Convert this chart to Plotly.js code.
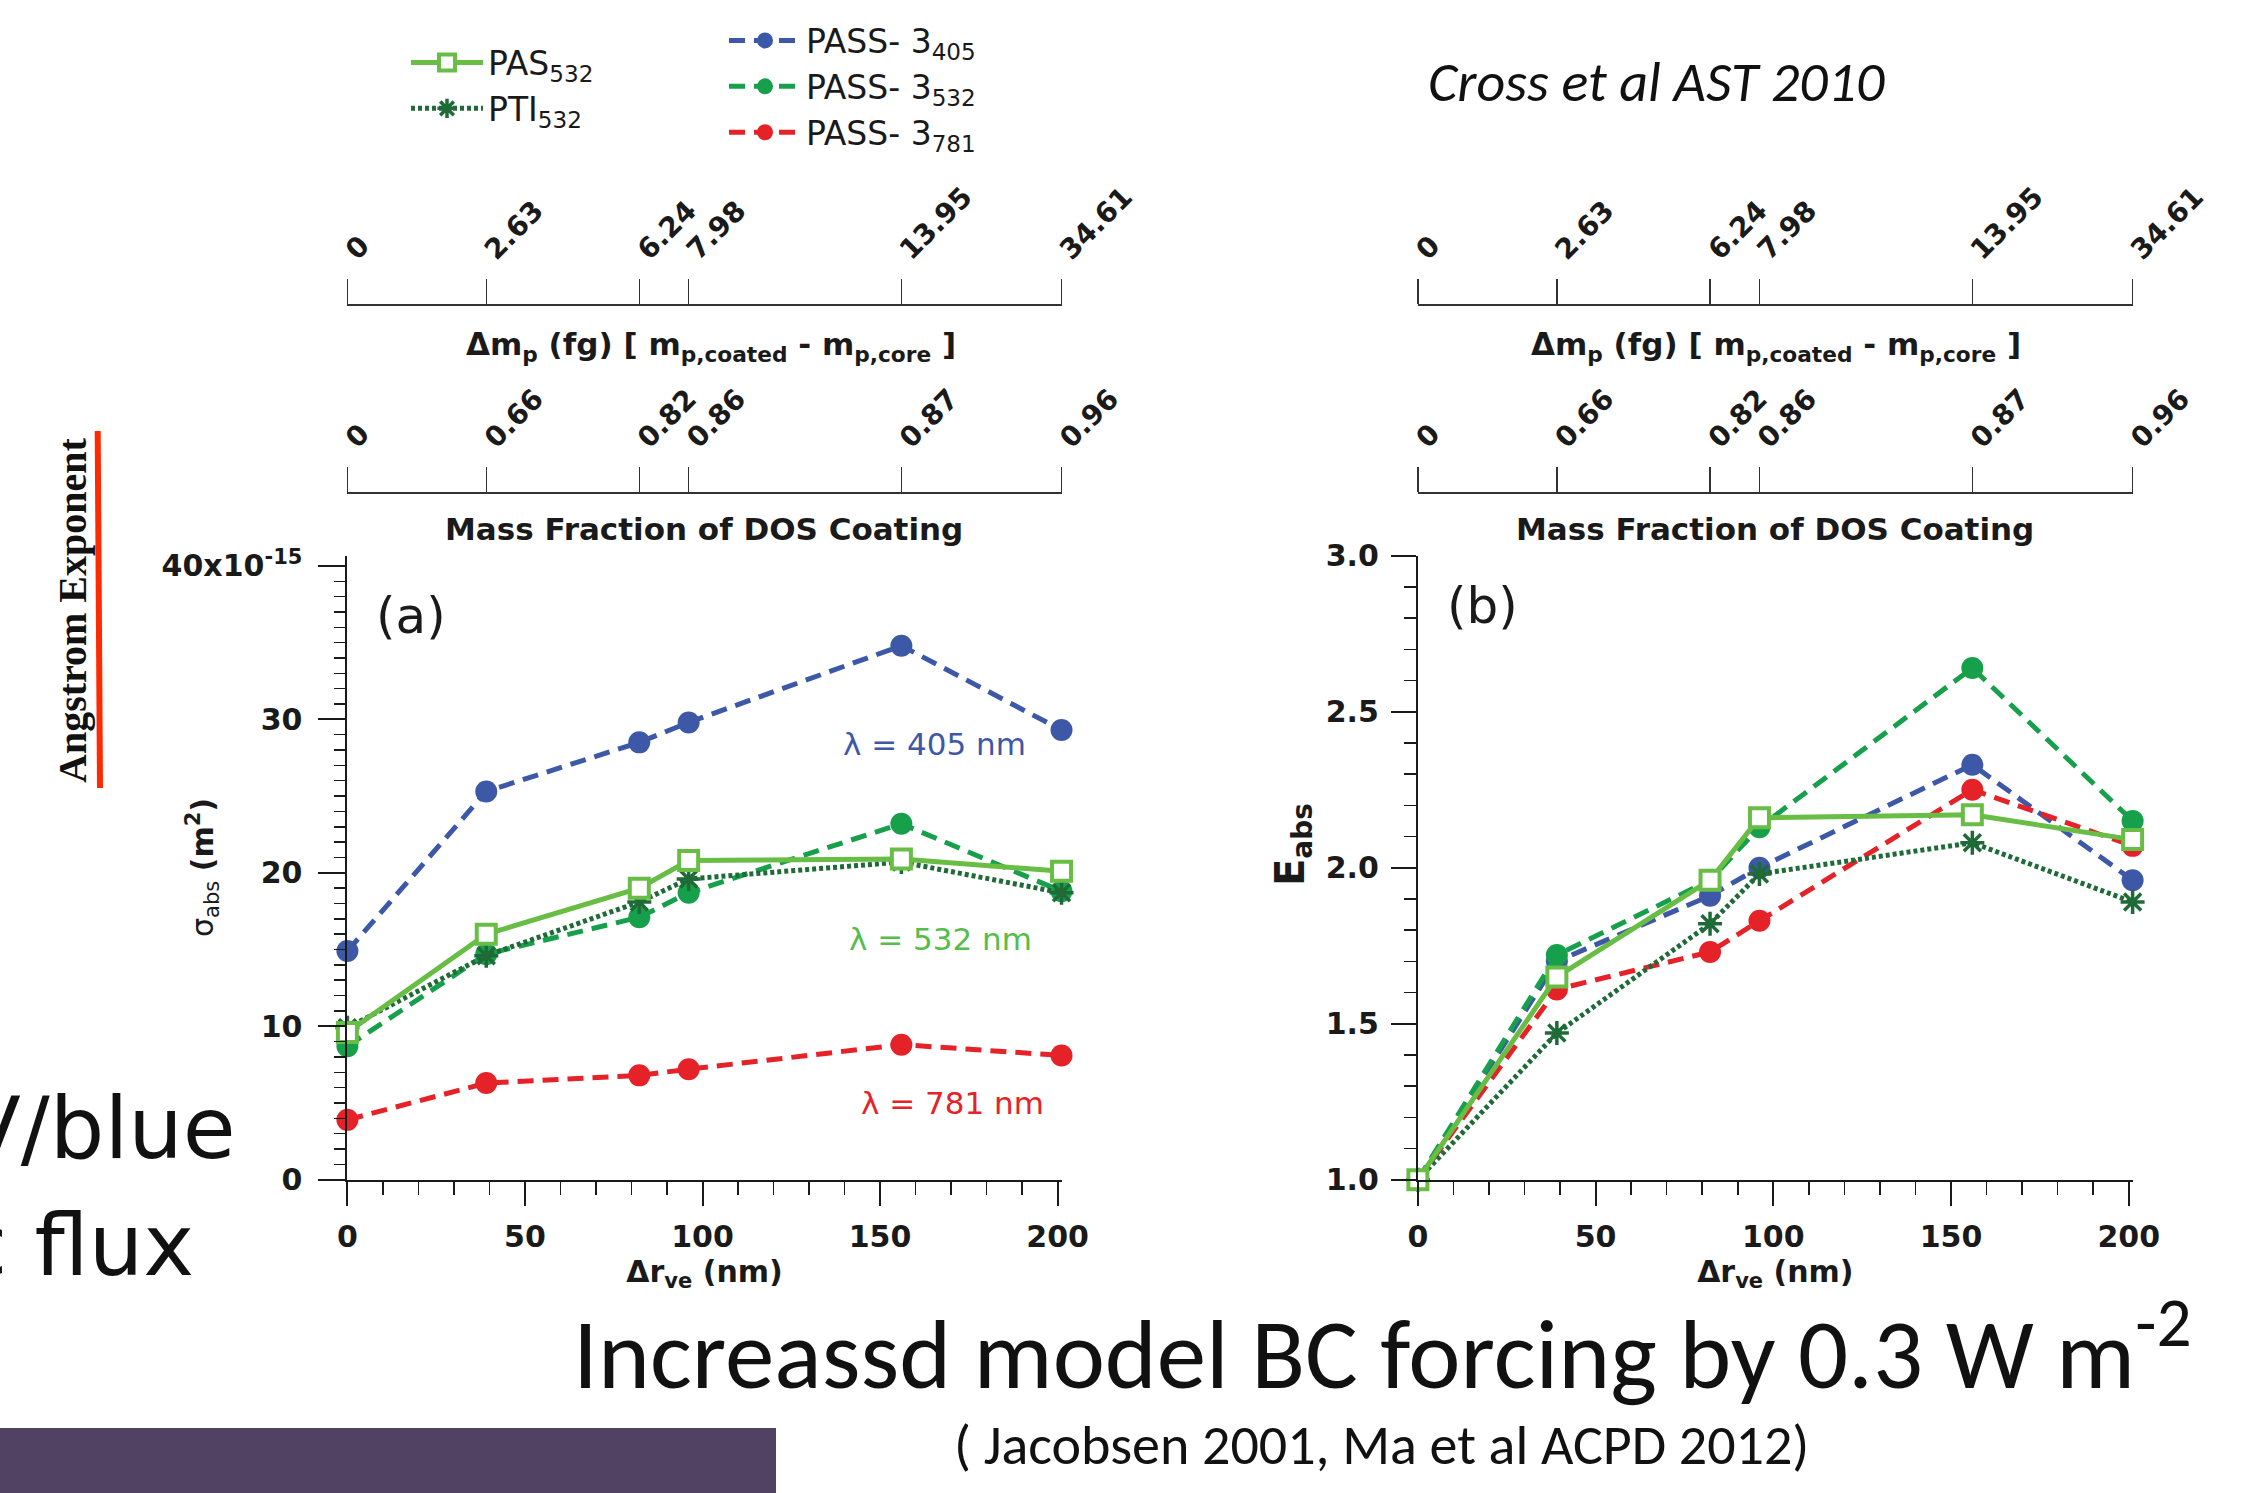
<!DOCTYPE html>
<html>
<head>
<meta charset="utf-8">
<script src="https://cdn.plot.ly/plotly-3.0.1.min.js"></script>
<style>html,body{margin:0;padding:0;background:#fff;overflow:hidden}</style>
</head>
<body>
<div id="chart" style="width:2261px;height:1493px"></div>
<script>
// Change in volume-equivalent radius of the coated particles (nm)
const dRve = [0, 39.1, 82.2, 96.1, 156.0, 201.1];

// Secondary scales for the same particles
const massDiffLabels = ['0', '2.63', '6.24', '7.98', '13.95', '34.61'];
const massFracLabels = ['0', '0.66', '0.82', '0.86', '0.87', '0.96'];

// (a) absorption cross section, units of 1e-15 m^2
const sigPass405 = [14.9, 25.3, 28.5, 29.8, 34.8, 29.3];
const sigPass532 = [8.7, 14.7, 17.1, 18.7, 23.2, 18.8];
const sigPass781 = [3.9, 6.3, 6.8, 7.2, 8.8, 8.1];
const sigPas532  = [9.6, 16.0, 19.0, 20.8, 20.9, 20.1];
const sigPti532  = [9.9, 14.6, 18.1, 19.6, 20.7, 18.7];

// (b) absorption enhancement
const ePass405 = [1.0, 1.70, 1.91, 2.00, 2.33, 1.96];
const ePass532 = [1.0, 1.72, 1.96, 2.13, 2.64, 2.15];
const ePass781 = [1.0, 1.61, 1.73, 1.83, 2.25, 2.07];
const ePas532  = [1.0, 1.65, 1.96, 2.16, 2.17, 2.09];
const ePti532  = [1.0, 1.47, 1.82, 1.98, 2.08, 1.89];

const sigTickVals = [0, 10, 20, 30, 40];
const sigTickText = ['0', '10', '20', '30', '40x10<sup>-15</sup>'];

const W = 2261, H = 1493;
const px = v => v / W;
const py = v => 1 - v / H;

const SANS = 'DejaVu Sans, Verdana, sans-serif';
const CAL = 'Carlito, Lato, sans-serif';
const INK = '#1a1a1a';

const C405 = '#3d58a7', C532 = '#17a04b', C781 = '#e62229';
const CPAS = '#68bd45', CPTI = '#1f6b37';

const DASH = '16px,9px';

function passTrace(x, y, name, color, xa, ya, show) {
  return {
    x: x, y: y, name: name, type: 'scatter', mode: 'lines+markers',
    xaxis: xa, yaxis: ya, legend: 'legend2', showlegend: show, cliponaxis: false,
    line: {color: color, width: 5, dash: DASH},
    marker: {symbol: 'circle', size: 22, color: color}
  };
}
function pasTrace(x, y, xa, ya, show) {
  return {
    x: x, y: y, name: 'PAS<sub>532</sub>', type: 'scatter', mode: 'lines+markers',
    xaxis: xa, yaxis: ya, legend: 'legend', legendrank: 1, showlegend: show, cliponaxis: false,
    line: {color: CPAS, width: 5},
    marker: {symbol: 'square', size: 19, color: '#ffffff', line: {color: CPAS, width: 4}}
  };
}
function ptiTrace(x, y, xa, ya, show) {
  return {
    x: x, y: y, name: 'PTI<sub>532</sub>', type: 'scatter', mode: 'lines+markers',
    xaxis: xa, yaxis: ya, legend: 'legend', legendrank: 2, showlegend: show, cliponaxis: false,
    line: {color: CPTI, width: 5, dash: '4px,3px'},
    marker: {symbol: 'asterisk-open', size: 20, color: CPTI, line: {color: CPTI, width: 3.5}}
  };
}
// carriers for the secondary top scales
function scaleCarrier(xa, ya, y) {
  return {x: dRve, y: y, xaxis: xa, yaxis: ya, type: 'scatter', mode: 'none',
          showlegend: false, hoverinfo: 'skip'};
}

const traces = [
  passTrace(dRve, sigPass405, 'PASS- 3<sub>405</sub>', C405, 'x', 'y', true),
  passTrace(dRve, sigPass532, 'PASS- 3<sub>532</sub>', C532, 'x', 'y', true),
  passTrace(dRve, sigPass781, 'PASS- 3<sub>781</sub>', C781, 'x', 'y', true),
  ptiTrace(dRve, sigPti532, 'x', 'y', true),
  pasTrace(dRve, sigPas532, 'x', 'y', true),

  passTrace(dRve, ePass405, 'PASS- 3<sub>405</sub>', C405, 'x2', 'y2', false),
  passTrace(dRve, ePass781, 'PASS- 3<sub>781</sub>', C781, 'x2', 'y2', false),
  passTrace(dRve, ePass532, 'PASS- 3<sub>532</sub>', C532, 'x2', 'y2', false),
  ptiTrace(dRve, ePti532, 'x2', 'y2', false),
  pasTrace(dRve, ePas532, 'x2', 'y2', false),

  scaleCarrier('x3', 'y', sigPas532),
  scaleCarrier('x4', 'y', sigPas532),
  scaleCarrier('x5', 'y2', ePas532),
  scaleCarrier('x6', 'y2', ePas532)
];

const X_RANGE = [0, 201.15];
const LEFT_DOM = [px(347.4), px(1061.7)];
const RIGHT_DOM = [px(1417.9), px(2132.8)];
const Y_DOM = [py(1179.7), py(555.7)];

const tickFont = {family: SANS, size: 30, color: INK, weight: 'bold'};
const topFont = {family: SANS, size: 28, color: INK, weight: 'bold'};

function bottomX(domain, anchor) {
  return {
    domain: domain, range: X_RANGE, anchor: anchor,
    showline: true, linecolor: INK, linewidth: 2, zeroline: false, showgrid: false,
    tickmode: 'linear', tick0: 0, dtick: 50,
    ticks: 'outside', ticklen: 24, tickwidth: 2, tickcolor: INK,
    ticklabelstandoff: 5, tickfont: tickFont,
    minor: {tickmode: 'linear', tick0: 0, dtick: 10, ticks: 'outside', ticklen: 13, tickwidth: 1.5, tickcolor: INK, showgrid: false},
    title: {text: '\u0394r<sub>ve</sub> (nm)', font: {family: SANS, size: 30, color: INK, weight: 'bold'}, standoff: 8},
    fixedrange: true
  };
}
function topX(base, pos, labels) {
  return {
    overlaying: base, anchor: 'free', position: pos, side: 'top', range: X_RANGE,
    showline: true, linecolor: '#333', linewidth: 2.5, zeroline: false, showgrid: false,
    tickmode: 'array', tickvals: dRve, ticktext: labels,
    ticks: 'outside', ticklen: 25, tickwidth: 1.5, tickcolor: '#333',
    tickangle: -45, tickfont: topFont, ticklabelstandoff: 2, fixedrange: true
  };
}

const legendBase = {
  xanchor: 'left', yanchor: 'middle',
  bgcolor: 'rgba(0,0,0,0)', borderwidth: 0, itemwidth: 72, tracegroupgap: 0,
  font: {family: SANS, size: 33, color: INK}
};

const layout = {
  width: W, height: H,
  margin: {l: 0, r: 0, t: 0, b: 0},
  paper_bgcolor: '#ffffff', plot_bgcolor: 'rgba(0,0,0,0)',
  showlegend: true,
  xaxis: bottomX(LEFT_DOM, 'y'),
  xaxis2: bottomX(RIGHT_DOM, 'y2'),
  xaxis3: topX('x', py(304.6), massDiffLabels),
  xaxis4: topX('x', py(492.9), massFracLabels),
  xaxis5: topX('x2', py(304.6), massDiffLabels),
  xaxis6: topX('x2', py(492.9), massFracLabels),
  yaxis: {
    domain: Y_DOM, range: [0, 40.665], anchor: 'x',
    showline: true, linecolor: INK, linewidth: 2, zeroline: false, showgrid: false,
    tickmode: 'array', tickvals: sigTickVals, ticktext: sigTickText,
    ticks: 'outside', ticklen: 27, tickwidth: 2, tickcolor: INK,
    ticklabelstandoff: 10, tickfont: tickFont,
    minor: {tickmode: 'linear', tick0: 0, dtick: 1, ticks: 'outside', ticklen: 11, tickwidth: 1.5, tickcolor: INK, showgrid: false},
    fixedrange: true
  },
  yaxis2: {
    domain: Y_DOM, range: [1, 3], anchor: 'x2',
    showline: true, linecolor: INK, linewidth: 2, zeroline: false, showgrid: false,
    tickmode: 'linear', tick0: 1, dtick: 0.5, tickformat: '.1f',
    ticks: 'outside', ticklen: 25, tickwidth: 2, tickcolor: INK,
    ticklabelstandoff: 6, tickfont: tickFont,
    minor: {tickmode: 'linear', tick0: 1, dtick: 0.1, ticks: 'outside', ticklen: 12, tickwidth: 1.5, tickcolor: INK, showgrid: false},
    fixedrange: true
  },
  legend: Object.assign({x: px(406), y: py(85.5)}, legendBase),
  legend2: Object.assign({x: px(724), y: py(86.5)}, legendBase),
  shapes: [
    // footer band
    {type: 'rect', xref: 'paper', yref: 'paper', x0: 0, x1: px(776), y0: 0, y1: py(1428),
     fillcolor: '#514263', line: {width: 0}, layer: 'below'},
    // underline beside the rotated note
    {type: 'line', xref: 'paper', yref: 'paper', x0: px(97.7), y0: py(431), x1: px(100), y1: py(788),
     line: {color: '#ff2a00', width: 6}}
  ],
  annotations: [
    // top scale titles
    {text: '<b>\u0394m<sub>p</sub> (fg) [ m<sub>p,coated</sub> - m<sub>p,core</sub> ]</b>', x: px(711), y: py(346)},
    {text: '<b>\u0394m<sub>p</sub> (fg) [ m<sub>p,coated</sub> - m<sub>p,core</sub> ]</b>', x: px(1776), y: py(346)},
    {text: '<b>Mass Fraction of DOS Coating</b>', x: px(704), y: py(529)},
    {text: '<b>Mass Fraction of DOS Coating</b>', x: px(1775), y: py(529)},
    // panel letters
    {text: '(a)', x: px(411), y: py(616), font: {family: SANS, size: 50, color: INK}},
    {text: '(b)', x: px(1482), y: py(606), font: {family: SANS, size: 50, color: INK}},
    // wavelength labels
    {text: '\u03bb = 405 nm', x: px(934), y: py(744), font: {family: SANS, size: 31, color: C405}},
    {text: '\u03bb = 532 nm', x: px(940), y: py(939), font: {family: SANS, size: 31, color: '#56bd4c'}},
    {text: '\u03bb = 781 nm', x: px(952), y: py(1103), font: {family: SANS, size: 31, color: C781}},
    // y titles
    {text: '\u03c3<sub>abs</sub> <b>(m<sup>2</sup>)</b>', x: px(202), y: py(868), textangle: -90,
     font: {family: SANS, size: 30, color: INK}},
    {text: '<b>E<sub>abs</sub></b>', x: px(1293), y: py(845), textangle: -90,
     font: {family: SANS, size: 40, color: INK}},
    // slide text
    {text: 'Cross et al AST 2010', x: px(1656), y: py(82),
     font: {family: CAL, size: 56, color: '#111', style: 'italic'}},
    {text: 'Angstrom Exponent', x: px(72), y: py(610), textangle: -90,
     font: {family: 'Liberation Serif, serif', size: 40, color: '#111', weight: 'bold'}},
    {text: 'V/blue', x: px(238), xanchor: 'right', y: py(1128),
     font: {family: SANS, size: 86, color: '#111'}},
    {text: 'c flux', x: px(196), xanchor: 'right', y: py(1245),
     font: {family: SANS, size: 86, color: '#111'}},
    {text: 'Increassd model BC forcing by 0.3 W m<sup>-2</sup>', x: px(1382), y: py(1347),
     font: {family: CAL, size: 99, color: '#111'}},
    {text: '( Jacobsen 2001, Ma et al ACPD 2012)', x: px(1381), y: py(1445),
     font: {family: CAL, size: 56, color: '#111'}}
  ].map(a => Object.assign({xref: 'paper', yref: 'paper', showarrow: false,
    xanchor: 'center', yanchor: 'middle',
    font: {family: SANS, size: 31, color: INK}}, a))
};

Plotly.newPlot('chart', traces, layout, {displayModeBar: false, staticPlot: true});
</script>
</body>
</html>
